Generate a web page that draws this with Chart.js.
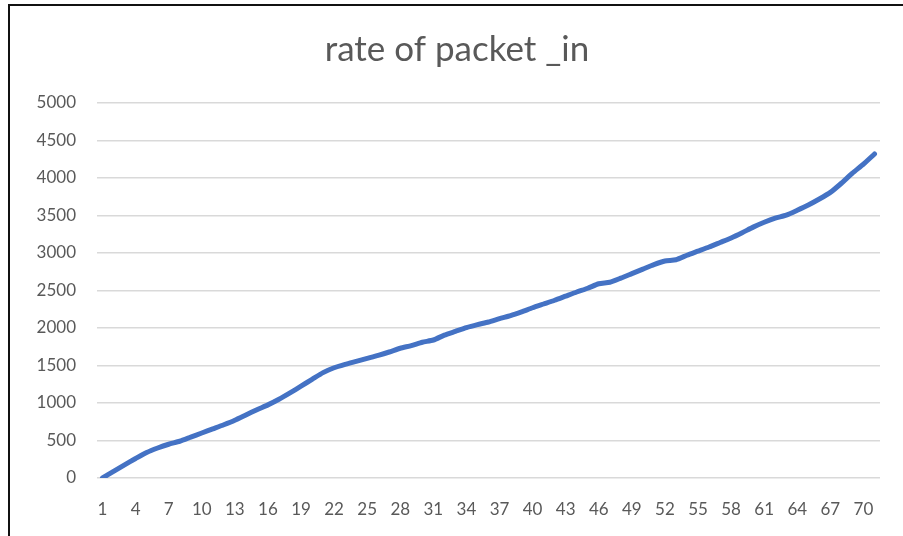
<!DOCTYPE html>
<html>
<head>
<meta charset="utf-8">
<script src="https://cdn.jsdelivr.net/npm/chart.js@4"></script>
<style>
  html, body { margin: 0; padding: 0; background: #fff; }
  #wrap { position: relative; width: 903px; height: 536px; overflow: hidden; }
  #frame { position: absolute; left: 8px; top: 4px; width: 1000px; height: 1000px;
           border-left: 2px solid #111; border-top: 2px solid #111; pointer-events: none; }
  canvas { position: absolute; left: 0; top: 0; }
</style>
</head>
<body>
<div id="wrap">
  <canvas id="packetChart" width="903" height="536"></canvas>
  <div id="frame"></div>
</div>
<script>
const samples = [
  1, 2, 3, 4, 5, 6, 7, 8, 9, 10, 11, 12, 13, 14, 15, 16, 17, 18, 19, 20,
  21, 22, 23, 24, 25, 26, 27, 28, 29, 30, 31, 32, 33, 34, 35, 36, 37, 38, 39, 40,
  41, 42, 43, 44, 45, 46, 47, 48, 49, 50, 51, 52, 53, 54, 55, 56, 57, 58, 59, 60,
  61, 62, 63, 64, 65, 66, 67, 68, 69, 70, 71
];
const packetIn = [
  0, 88, 175, 260, 340, 400, 450, 490, 545, 600,
  655, 710, 770, 840, 910, 975, 1050, 1135, 1225, 1315,
  1405, 1470, 1515, 1555, 1595, 1635, 1680, 1730, 1765, 1810,
  1840, 1905, 1955, 2005, 2045, 2080, 2125, 2165, 2215, 2270,
  2320, 2370, 2425, 2480, 2530, 2590, 2610, 2665, 2725, 2785,
  2845, 2893, 2910, 2970, 3025, 3080, 3140, 3200, 3270, 3345,
  3410, 3465, 3505, 3570, 3640, 3720, 3808, 3930, 4065, 4185,
  4320
];

const textColor = "#595959";
const fontFamily = "Lato, 'Noto Sans', sans-serif";

const ctx = document.getElementById("packetChart").getContext("2d");
new Chart(ctx, {
  type: "line",
  data: {
    labels: samples,
    datasets: [{
      label: "packet_in",
      data: packetIn,
      borderColor: "#4472C4",
      borderWidth: 5,
      borderCapStyle: "round",
      borderJoinStyle: "round",
      pointRadius: 0,
      tension: 0.2,
      fill: false
    }]
  },
  options: {
    responsive: false,
    animation: false,
    // left padding pushes the title centre right, like the original
    layout: { padding: { top: 4, right: 23, bottom: 0, left: 34 } },
    plugins: {
      legend: { display: false },
      tooltip: { enabled: false },
      title: {
        display: true,
        text: "rate of packet _in",
        color: textColor,
        font: { family: fontFamily, size: 35, weight: "normal" },
        padding: { top: 25, bottom: 32 }
      }
    },
    scales: {
      x: {
        offset: true,
        afterFit: (axis) => { axis.height = 58; },
        grid: { display: false, drawTicks: false },
        border: { display: false },
        ticks: {
          autoSkip: false,
          maxRotation: 0,
          padding: 21,
          color: textColor,
          font: { family: fontFamily, size: 17 },
          callback: function (value, index) {
            return index % 3 === 0 ? this.getLabelForValue(value) : "";
          }
        }
      },
      y: {
        min: 0,
        max: 5000,
        afterFit: (axis) => { axis.width = 63; },
        grid: { color: "#d9d9d9", lineWidth: 1.5, drawTicks: false },
        border: { display: false },
        ticks: {
          stepSize: 500,
          padding: 21,
          color: textColor,
          font: { family: fontFamily, size: 17 },
          callback: (value) => String(value)
        }
      }
    }
  }
});
</script>
</body>
</html>
